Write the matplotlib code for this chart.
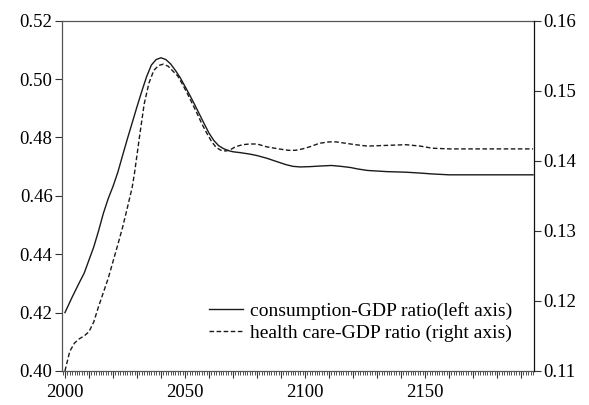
import matplotlib
matplotlib.use("Agg")
import matplotlib.pyplot as plt
from matplotlib.ticker import MultipleLocator, FixedLocator, FuncFormatter

plt.rcParams['font.family'] = ['Liberation Serif', 'DejaVu Serif']

# consumption-GDP ratio (left axis)
cons_years = [2000, 2003, 2006, 2008, 2010, 2012, 2014, 2016, 2018, 2020, 2022, 2024,
              2026, 2028, 2030, 2032, 2034, 2036, 2038, 2040, 2042, 2044, 2046, 2048,
              2050, 2052, 2054, 2056, 2058, 2060, 2062, 2064, 2066, 2068, 2070, 2073,
              2077, 2080, 2084, 2088, 2092, 2095, 2098, 2102, 2106, 2111, 2115, 2119,
              2122, 2126, 2130, 2134, 2142, 2148, 2153, 2160, 2170, 2180, 2195]
cons_ratio = [0.4200, 0.4253, 0.4303, 0.4335, 0.4380, 0.4425, 0.4480, 0.4540, 0.4590, 0.4632, 0.4680, 0.4738,
              0.4795, 0.4850, 0.4905, 0.4958, 0.5008, 0.5048, 0.5067, 0.5073, 0.5067, 0.5052, 0.5030, 0.5005,
              0.4975, 0.4945, 0.4913, 0.4880, 0.4847, 0.4815, 0.4790, 0.4772, 0.4762, 0.4755, 0.4751, 0.4748,
              0.4743, 0.4738, 0.4729, 0.4718, 0.4707, 0.4701, 0.4699, 0.4700, 0.4702, 0.4704, 0.4701, 0.4697,
              0.4692, 0.4687, 0.4685, 0.4683, 0.4681, 0.4678, 0.4675, 0.4672, 0.4672, 0.4672, 0.4672]

# health care-GDP ratio (right axis)
hc_years = [2000, 2002, 2004, 2006, 2008, 2010, 2012, 2014, 2016, 2018, 2020, 2022,
            2024, 2026, 2028, 2029, 2031, 2033, 2035, 2037, 2039, 2041, 2043, 2045,
            2047, 2049, 2051, 2053, 2055, 2057, 2059, 2061, 2063, 2065, 2067, 2069,
            2071, 2074, 2077, 2080, 2084, 2089, 2093, 2096, 2099, 2102, 2106, 2110,
            2113, 2117, 2121, 2126, 2134, 2142, 2148, 2153, 2160, 2170, 2180, 2195]
hc_ratio = [0.1100, 0.1128, 0.1140, 0.1146, 0.1150, 0.1156, 0.1170, 0.1192, 0.1212, 0.1232, 0.1256, 0.1280,
            0.1305, 0.1333, 0.1362, 0.1383, 0.1433, 0.1481, 0.1511, 0.1529, 0.1536, 0.1538, 0.1535, 0.1528,
            0.1521, 0.1509, 0.1496, 0.1482, 0.1468, 0.1453, 0.1440, 0.1428, 0.1419, 0.1415, 0.1414, 0.1416,
            0.1420, 0.1423, 0.1424, 0.1424, 0.1420, 0.1417, 0.1415, 0.1415, 0.1417, 0.1420, 0.1425, 0.1427,
            0.1427, 0.1425, 0.1423, 0.1421, 0.1422, 0.1423, 0.1421, 0.1418, 0.1417, 0.1417, 0.1417, 0.1417]

left_ticks = [0.40, 0.42, 0.44, 0.46, 0.48, 0.50, 0.52]
right_ticks = [0.11, 0.12, 0.13, 0.14, 0.15, 0.16]
x_labels = [2000, 2050, 2100, 2150]

line_color = '#1a1a1a'
tick_fs = 13.5
legend_fs = 14

fig = plt.figure(figsize=(5.89, 4.05), dpi=100)
ax = fig.add_axes([0.1058, 0.084, 0.8008, 0.8649])
ax2 = ax.twinx()

l1, = ax.plot(cons_years, cons_ratio, color=line_color, lw=1.0,
              label='consumption-GDP ratio(left axis)')
l2, = ax2.plot(hc_years, hc_ratio, color=line_color, lw=1.0, linestyle=(0, (3.3, 1.8)),
               label='health care-GDP ratio (right axis)')

ax.set_xlim(1998.9, 2195.4)
ax.set_ylim(0.40, 0.52)
ax2.set_ylim(0.11, 0.16)

ax.yaxis.set_major_locator(FixedLocator(left_ticks))
ax.yaxis.set_major_formatter(FuncFormatter(lambda v, p: f'{v:.2f}'))
ax2.yaxis.set_major_locator(FixedLocator(right_ticks))
ax2.yaxis.set_major_formatter(FuncFormatter(lambda v, p: f'{v:.2f}'))

ax.xaxis.set_major_locator(MultipleLocator(10))
ax.xaxis.set_minor_locator(MultipleLocator(1))
ax.xaxis.set_major_formatter(
    FuncFormatter(lambda v, p: f'{int(round(v))}' if int(round(v)) in x_labels else ''))

ax.tick_params(axis='x', which='major', length=5, width=0.8, pad=4.5, labelsize=tick_fs, color='#333333')
ax.tick_params(axis='x', which='minor', length=3, width=0.6, color='#333333')
ax.tick_params(axis='y', which='major', length=5, width=0.8, pad=2, labelsize=tick_fs, color='#333333')
ax2.tick_params(axis='y', which='major', length=5, width=0.8, pad=2, labelsize=tick_fs, color='#333333')

for sp in ['left', 'bottom', 'top']:
    ax.spines[sp].set_color('#555555')
    ax.spines[sp].set_linewidth(0.9)
    ax2.spines[sp].set_visible(False)
ax2.spines['right'].set_color('#111111')
ax2.spines['right'].set_linewidth(0.9)
ax.spines['right'].set_visible(False)

leg = ax.legend(handles=[l1, l2], loc='upper left', bbox_to_anchor=(0.311, 0.198),
                frameon=False, fontsize=legend_fs, handlelength=1.75, handletextpad=0.36,
                labelspacing=0.25, borderpad=0, borderaxespad=0)

fig.savefig('out.png', dpi=100)
